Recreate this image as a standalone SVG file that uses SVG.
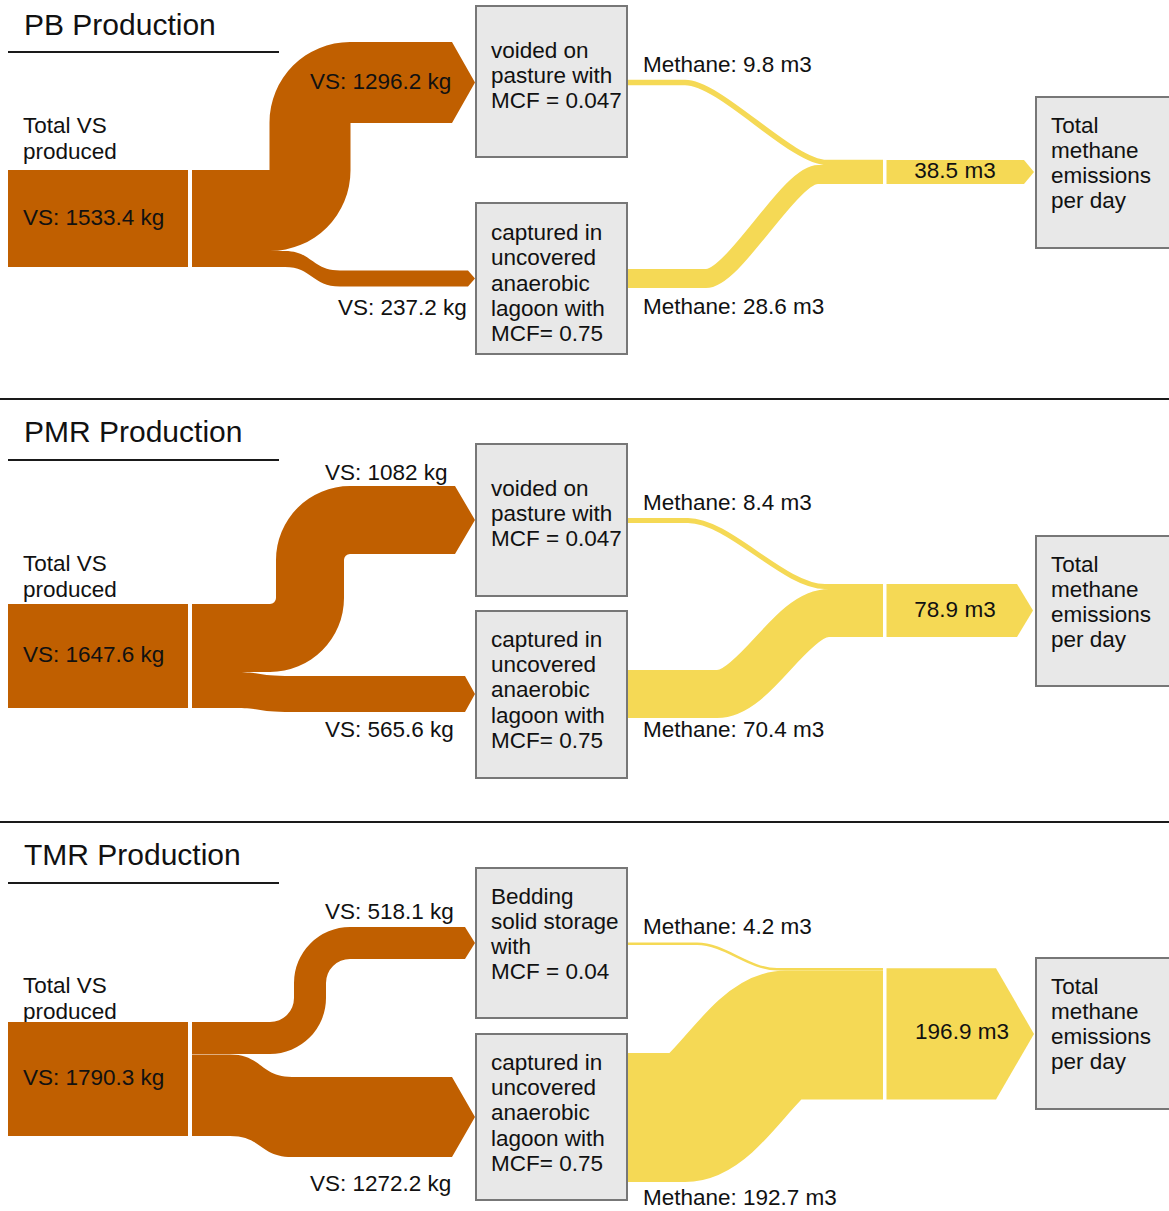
<svg xmlns="http://www.w3.org/2000/svg" width="1169" height="1211" viewBox="0 0 1169 1211">
<style>
text{font-family:"Liberation Sans",Arial,sans-serif;font-size:22.5px;fill:#111}
.title{font-size:30px}
.vs{fill:#C05F00}
.me{fill:none;stroke:#F5D955;stroke-linecap:butt}
.mo{fill:#F5D955}
.box{fill:#E8E8E8;stroke:#777;stroke-width:2}
.rule{stroke:#1a1a1a;stroke-width:2}
.mid{text-anchor:middle}
</style>
<rect width="1169" height="1211" fill="#fff"/>
<g id="rules">
<line class="rule" x1="0" y1="399" x2="1169" y2="399"/>
<line class="rule" x1="0" y1="822" x2="1169" y2="822"/>
</g>

<!-- ===== PB ===== -->
<g id="pb-title"><text class="title" x="24" y="35">PB Production</text><line class="rule" x1="8" y1="52" x2="279" y2="52"/></g>
<g id="pb-source"><text x="23" y="133">Total VS</text><text x="23" y="159">produced</text><rect class="vs" x="8" y="170" width="180" height="97"/><text x="23" y="225">VS: 1533.4 kg</text></g>
<g id="pb-pasture"><rect class="box" x="476" y="6" width="151" height="151"/><text x="491" y="58">voided on</text><text x="491" y="83">pasture with</text><text x="491" y="108">MCF = 0.047</text></g>
<g id="pb-lagoon"><rect class="box" x="476" y="203" width="151" height="151"/><text x="491" y="239.5">captured in</text><text x="491" y="265">uncovered</text><text x="491" y="290.5">anaerobic</text><text x="491" y="316">lagoon with</text><text x="491" y="341">MCF= 0.75</text></g>
<g id="pb-total"><rect class="box" x="1036" y="97" width="140" height="151"/><text x="1051" y="133">Total</text><text x="1051" y="158">methane</text><text x="1051" y="183">emissions</text><text x="1051" y="208">per day</text></g>
<g id="pb-connectors">
<path class="vs" d="M192,170 H269.5 V122.5 A80.5,80.5 0 0 1 350,42 H452 L475,82.5 L452,123 H350.5 V170.5 A80.5,80.5 0 0 1 270,251 H192 Z"/>
<path class="vs" d="M192,251 H285 C312,251 312,270.5 340,270.5 H468 L475,278.5 L468,286.5 H340 C312,286.5 312,267 285,267 H192 Z"/>
<path class="me" stroke-width="5.5" d="M628,82.5 H685 C720.5,82.5 791.5,162.5 827,162.5 H883"/>
<path class="me" stroke-width="19" d="M628,278.5 H706 C734,278.5 790,174.5 818,174.5 H883"/>
<path class="mo" d="M886.5,160 H1024 L1034,172 L1024,184 H886.5 Z"/>
<text x="310" y="89">VS: 1296.2 kg</text>
<text x="338" y="315">VS: 237.2 kg</text>
<text x="643" y="72">Methane: 9.8 m3</text>
<text x="643" y="314">Methane: 28.6 m3</text>
<text class="mid" x="955" y="178">38.5 m3</text>
</g>

<!-- ===== PMR ===== -->
<g id="pmr-title"><text class="title" x="24" y="442">PMR Production</text><line class="rule" x1="8" y1="460" x2="279" y2="460"/></g>
<g id="pmr-source"><text x="23" y="571">Total VS</text><text x="23" y="597">produced</text><rect class="vs" x="8" y="604" width="180" height="104"/><text x="23" y="662">VS: 1647.6 kg</text></g>
<g id="pmr-pasture"><rect class="box" x="476" y="444" width="151" height="152"/><text x="491" y="496">voided on</text><text x="491" y="521">pasture with</text><text x="491" y="546">MCF = 0.047</text></g>
<g id="pmr-lagoon"><rect class="box" x="476" y="611" width="151" height="167"/><text x="491" y="647">captured in</text><text x="491" y="672">uncovered</text><text x="491" y="697">anaerobic</text><text x="491" y="722.5">lagoon with</text><text x="491" y="747.5">MCF= 0.75</text></g>
<g id="pmr-total"><rect class="box" x="1036" y="536" width="140" height="150"/><text x="1051" y="572">Total</text><text x="1051" y="597">methane</text><text x="1051" y="622">emissions</text><text x="1051" y="647">per day</text></g>
<g id="pmr-connectors">
<path class="vs" d="M192,604 H270 A6,6 0 0 0 276,598 V560 A74,74 0 0 1 350,486 H455 L475,520 L455,554 H350 A6,6 0 0 0 344,560 V598 A74,74 0 0 1 270,672 H192 Z"/>
<path class="vs" d="M192,672 H235 C260,672 260,676 285,676 H465 L475,694 L465,712 H285 C260,712 260,708 235,708 H192 Z"/>
<path class="me" stroke-width="5" d="M628,520.5 H688 C729,520.5 784,586.5 825,586.5 H883"/>
<path class="me" stroke-width="48" d="M628,694 H717 C755,694 791,613 829,613 H883"/>
<path class="mo" d="M886.5,584 H1017 L1033,610.5 L1017,637 H886.5 Z"/>
<text x="325" y="480">VS: 1082 kg</text>
<text x="325" y="737">VS: 565.6 kg</text>
<text x="643" y="510">Methane: 8.4 m3</text>
<text x="643" y="737">Methane: 70.4 m3</text>
<text class="mid" x="955" y="617">78.9 m3</text>
</g>

<!-- ===== TMR ===== -->
<g id="tmr-title"><text class="title" x="24" y="865">TMR Production</text><line class="rule" x1="8" y1="883" x2="279" y2="883"/></g>
<g id="tmr-source"><text x="23" y="993">Total VS</text><text x="23" y="1019">produced</text><rect class="vs" x="8" y="1022" width="180" height="114"/><text x="23" y="1085">VS: 1790.3 kg</text></g>
<g id="tmr-bedding"><rect class="box" x="476" y="868" width="151" height="150"/><text x="491" y="904">Bedding</text><text x="491" y="929">solid storage</text><text x="491" y="954">with</text><text x="491" y="979">MCF = 0.04</text></g>
<g id="tmr-lagoon"><rect class="box" x="476" y="1034" width="151" height="166"/><text x="491" y="1069.5">captured in</text><text x="491" y="1095">uncovered</text><text x="491" y="1120">anaerobic</text><text x="491" y="1145.5">lagoon with</text><text x="491" y="1170.5">MCF= 0.75</text></g>
<g id="tmr-total"><rect class="box" x="1036" y="958" width="140" height="151"/><text x="1051" y="994">Total</text><text x="1051" y="1019">methane</text><text x="1051" y="1044">emissions</text><text x="1051" y="1069">per day</text></g>
<g id="tmr-connectors">
<path class="vs" d="M192,1022 H270 A24,24 0 0 0 294,998 V983 A56,56 0 0 1 350,927 H465 L475,943 L465,959 H350 A24,24 0 0 0 326,983 V998 A56,56 0 0 1 270,1054 H192 Z"/>
<path class="vs" d="M192,1054.5 H230 C262,1054.5 260,1077 292,1077 H452 L475,1117 L452,1157 H292 C260,1157 262,1136 230,1136 H192 Z"/>
<path class="me" stroke-width="2.5" d="M628,943.8 H697 C725,943.8 749,969.3 777,969.3 H883"/>
<path class="me" stroke-width="129" d="M628,1117.5 H685 C714,1117.5 757,1035 786,1035 H883"/>
<path class="mo" d="M886.5,968.3 H996 L1034,1034 L996,1099.5 H886.5 Z"/>
<text x="325" y="919">VS: 518.1 kg</text>
<text x="310" y="1191">VS: 1272.2 kg</text>
<text x="643" y="934">Methane: 4.2 m3</text>
<text x="643" y="1205">Methane: 192.7 m3</text>
<text class="mid" x="962" y="1039">196.9 m3</text>
</g>
</svg>
